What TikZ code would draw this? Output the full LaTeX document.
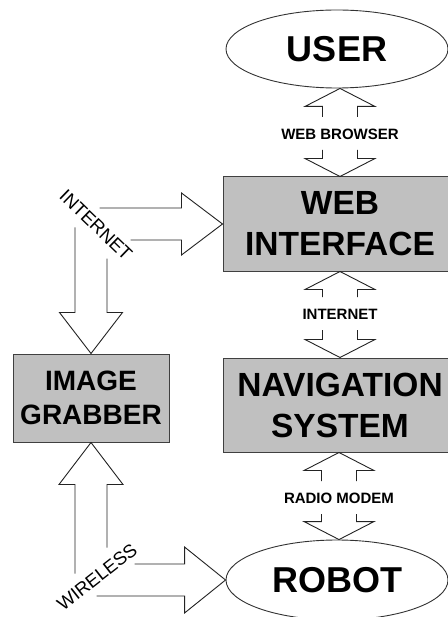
\documentclass[tikz,border=0pt]{standalone}
\usepackage{fontspec}
\setmainfont{Liberation Sans}
\usetikzlibrary{shapes.geometric,calc}
\definecolor{boxfill}{RGB}{192,192,192}
\definecolor{inkline}{RGB}{35,35,35}

% Two-way block arrow between an upper node (#1) and a lower node (#3),
% broken in the middle by the label node (#2).
\newcommand{\twoway}[3]{%
  \coordinate (twA) at (#2 |- #1.south);
  \coordinate (twB) at (#2 |- #3.north);
  \draw[blockline] ($(#2)+(-17.5,-17)$) -- ($(twA)+(-17.5,18)$) -- ($(twA)+(-35,18)$)
    -- (twA) -- ($(twA)+(35,18)$) -- ($(twA)+(17.5,18)$) -- ($(#2)+(17.5,-17)$);
  \draw[blockline] ($(#2)+(-17.5,16)$) -- ($(twB)+(-17.5,-18)$) -- ($(twB)+(-35,-18)$)
    -- (twB) -- ($(twB)+(35,-18)$) -- ($(twB)+(17.5,-18)$) -- ($(#2)+(17.5,16)$);
}

\begin{document}
\begin{tikzpicture}[x=1pt,y=-1pt,
  blockline/.style={draw=inkline,line width=0.9pt,line join=miter},
  unitbox/.style={draw=black!75,line width=1pt,fill=boxfill,inner sep=0pt,align=center,
    font=\fontsize{33.5}{41}\selectfont\bfseries},
  oval/.style={ellipse,draw=black!80,line width=0.9pt,inner sep=0pt,
    font=\fontsize{36}{40}\selectfont\bfseries},
  linklabel/.style={inner sep=0pt,font=\fontsize{15}{16}\selectfont\bfseries},
  slantlabel/.style={inner sep=0pt,font=\fontsize{18.5}{20}\selectfont}]

\useasboundingbox (0,0) rectangle (447,617);
\fill[white] (0,0) rectangle (447,617);

% main blocks
\node[oval,minimum width=222pt,minimum height=78pt] (user) at (337,49) {USER};
\node[unitbox,minimum width=234pt,minimum height=94pt] (web) at (340,224) {WEB\\INTERFACE};
\node[unitbox,minimum width=234pt,minimum height=94pt] (nav) at (340,405) {NAVIGATION\\SYSTEM};
\node[unitbox,minimum width=156pt,minimum height=88pt,
      font=\fontsize{28}{34}\selectfont\bfseries] (grab) at (91,398) {IMAGE\\GRABBER};
\node[oval,minimum width=222pt,minimum height=80pt] (robot) at (337,580) {ROBOT};

% link labels
\node[linklabel] (wb) at (340,134) {WEB BROWSER};
\node[linklabel] (inet) at (340,314) {INTERNET};
\node[linklabel] (radio) at (339,498) {RADIO MODEM};
\node[slantlabel,rotate=-44] (inetside) at (96,225) {INTERNET};
\node[slantlabel,rotate=38] (wless) at (97,577) {WIRELESS};

% vertical two-way links on the right column
\twoway{user}{wb}{web}
\twoway{web}{inet}{nav}
\twoway{nav}{radio}{robot}

% internet feed into the web interface
\coordinate (tipW) at (web.west);
\draw[blockline] ($(tipW)+(-123,-16)$) -- ++(82,0) -- ++(0,-15) -- (tipW)
  -- ($(tipW)+(-41,31)$) -- ++(0,-15) -- ++(-51,0);

% internet feed down into the image grabber
\coordinate (tipG) at (grab.north);
\draw[blockline] ($(tipG)+(-16,-126)$) -- ++(0,85) -- ++(-15.5,0) -- (tipG)
  -- ($(tipG)+(31.5,-41)$) -- ++(-15.5,0) -- ++(0,-54);

% wireless feed up into the image grabber
\coordinate (tipU) at (grab.south);
\draw[blockline] ($(tipU)+(-16,131)$) -- ++(0,-89) -- ++(-16,0) -- (tipU)
  -- ($(tipU)+(32,42)$) -- ++(-16,0) -- ++(0,63);

% wireless feed into the robot
\coordinate (tipR) at (robot.west);
\draw[blockline] ($(tipR)+(-91,-16)$) -- ++(50,0) -- ++(0,-17) -- (tipR)
  -- ($(tipR)+(-41,33)$) -- ++(0,-17) -- ++(-88,0);

\end{tikzpicture}
\end{document}
